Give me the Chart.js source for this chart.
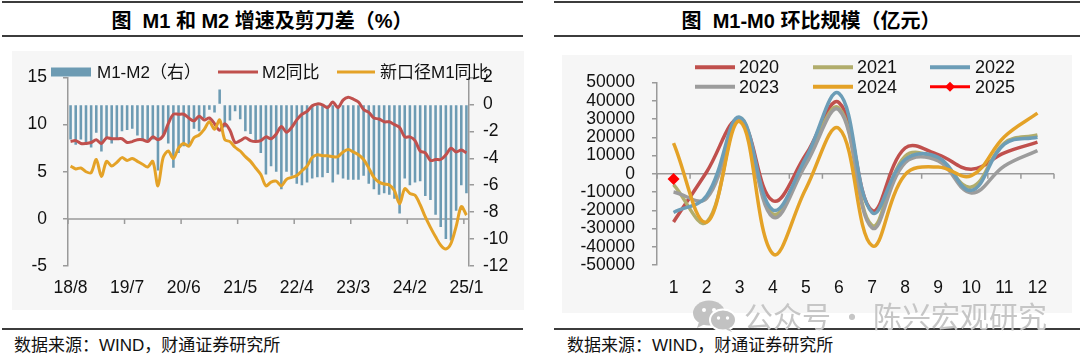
<!DOCTYPE html>
<html><head><meta charset="utf-8">
<script src="https://cdn.jsdelivr.net/npm/chart.js@4.4.1/dist/chart.umd.min.js"></script>
<style>
html,body{margin:0;padding:0;background:#fff;}
body{width:1080px;height:357px;position:relative;overflow:hidden;font-family:"Liberation Sans","Noto Sans CJK SC",sans-serif;}
.rule{position:absolute;height:2px;background:#3c3c3c;}
.title{position:absolute;top:8px;font-weight:bold;font-size:20px;line-height:26px;white-space:pre;color:#000;transform:translateX(-50%);}
.src{position:absolute;top:335px;font-size:17px;line-height:22px;white-space:pre;color:#111;}
.panel{position:absolute;background:#f6f6f6;}
canvas{display:block;}
#wm{position:absolute;left:692px;top:298px;height:34px;white-space:pre;color:#c6c6c6;font-family:"Noto Sans CJK SC",sans-serif;font-size:29px;line-height:34px;}
#wm svg{position:absolute;left:0;top:2px;}
#wm span{position:absolute;left:52px;top:0;}
</style></head>
<body>
<div class="rule" style="left:2px;top:1px;width:521px;"></div>
<div class="title" style="left:262px;">图  M1 和 M2 增速及剪刀差（%）</div>
<div class="rule" style="left:2px;top:35px;width:521px;"></div>
<div class="panel" style="left:12px;top:51px;width:512px;height:259px;"><canvas id="c1" width="512" height="259"></canvas></div>
<div class="rule" style="left:2px;top:328px;width:521px;"></div>
<div class="src" style="left:14px;">数据来源：WIND，财通证券研究所</div>

<div class="rule" style="left:554px;top:1px;width:526px;"></div>
<div class="title" style="left:811px;">图  M1-M0 环比规模（亿元）</div>
<div class="rule" style="left:554px;top:35px;width:526px;"></div>
<div class="panel" style="left:562px;top:55px;width:510px;height:258px;"><canvas id="c2" width="510" height="258"></canvas></div>
<div class="rule" style="left:554px;top:328px;width:526px;"></div>
<div class="src" style="left:567px;">数据来源：WIND，财通证券研究所</div>

<div id="wm"><svg width="46" height="32" viewBox="0 0 46 32">
<ellipse cx="17" cy="13" rx="16" ry="12.5" fill="#c2c2c2"/>
<path d="M7 22 L5 28 L13 24 Z" fill="#c2c2c2"/>
<ellipse cx="31" cy="20" rx="13" ry="10.5" fill="#c2c2c2" stroke="#fff" stroke-width="2"/>
<path d="M37 28 L40 32 L34 29.5 Z" fill="#c2c2c2"/>
<circle cx="12" cy="10" r="2" fill="#fff"/><circle cx="22" cy="10" r="2" fill="#fff"/>
<circle cx="26.5" cy="18" r="1.7" fill="#fff"/><circle cx="35.5" cy="18" r="1.7" fill="#fff"/>
</svg><span>公众号 · 陈兴宏观研究</span></div>

<script>
// ---------- Left chart data ----------
const monthLabels = ['18/8','18/9','18/10','18/11','18/12',
 '19/1','19/2','19/3','19/4','19/5','19/6','19/7','19/8','19/9','19/10','19/11','19/12',
 '20/1','20/2','20/3','20/4','20/5','20/6','20/7','20/8','20/9','20/10','20/11','20/12',
 '21/1','21/2','21/3','21/4','21/5','21/6','21/7','21/8','21/9','21/10','21/11','21/12',
 '22/1','22/2','22/3','22/4','22/5','22/6','22/7','22/8','22/9','22/10','22/11','22/12',
 '23/1','23/2','23/3','23/4','23/5','23/6','23/7','23/8','23/9','23/10','23/11','23/12',
 '24/1','24/2','24/3','24/4','24/5','24/6','24/7','24/8','24/9','24/10','24/11','24/12',
 '25/1'];
const shownMonthTicks = ['18/8','19/7','20/6','21/5','22/4','23/3','24/2','25/1'];
const m2Yoy = [8.2,8.3,8.0,8.0,8.1,
 8.4,8.0,8.6,8.5,8.5,8.5,8.1,8.2,8.4,8.4,8.2,8.7,
 8.4,8.8,10.1,11.1,11.1,11.1,10.7,10.4,10.9,10.5,10.7,10.1,
 9.4,10.1,9.4,8.1,8.3,8.6,8.3,8.2,8.3,8.7,8.5,9.0,
 9.8,9.2,9.7,10.5,11.1,11.4,12.0,12.2,12.1,11.8,12.4,11.8,
 12.6,12.9,12.7,12.4,11.6,11.3,10.7,10.6,10.3,10.3,10.0,9.7,
 8.7,8.7,8.3,7.2,7.0,6.2,6.3,6.3,6.8,7.5,7.1,7.3,
 7.0];
const newM1Yoy = [5.6,5.3,5.4,5.0,4.9,
 6.3,4.5,6.1,5.6,6.0,6.5,6.2,6.4,6.1,5.8,5.5,6.1,
 3.5,6.5,7.2,6.4,7.5,8.0,7.7,8.6,8.9,9.5,10.3,9.5,
 10.5,8.4,8.2,7.6,7.2,6.6,6.1,5.4,4.7,3.5,3.9,4.0,
 3.5,4.2,4.4,4.6,5.1,5.6,6.5,6.8,6.7,6.7,6.6,6.6,
 7.1,7.35,7.1,6.8,6.3,5.4,4.4,3.9,3.7,3.6,3.0,1.6,
 3.2,2.7,2.5,1.5,0.2,-0.9,-1.9,-2.8,-3.2,-2.6,-0.8,1.3,
 0.4];
const gapM1M2 = [-2.6,-3.0,-2.6,-3.0,-3.2,
 -2.1,-3.5,-2.5,-2.9,-2.5,-2.0,-1.9,-1.8,-2.3,-2.6,-2.7,-2.6,
 -4.9,-2.3,-2.9,-4.7,-3.6,-3.1,-3.0,-1.8,-2.0,-1.0,-0.4,-0.6,
 1.1,-1.7,-1.2,-0.5,-1.1,-2.0,-2.2,-2.8,-3.6,-5.2,-4.6,-5.0,
 -6.3,-5.0,-5.3,-5.9,-6.0,-5.8,-5.5,-5.4,-5.4,-5.1,-5.8,-5.2,
 -5.5,-5.6,-5.6,-5.6,-5.3,-5.9,-6.3,-6.7,-6.6,-6.7,-7.0,-8.1,
 -5.5,-6.0,-5.8,-5.7,-6.8,-7.1,-8.2,-9.1,-10.0,-10.1,-7.9,-6.0,
 -6.6];

// ---------- Right chart data (亿元) ----------
const monthNums = ['1','2','3','4','5','6','7','8','9','10','11','12'];
const y2020 = [-26400, 1000, 29500, -14800, 10500, 39000, -20100, 14100, 10500, 2500, 11400, 17300];
const y2021 = [-6000, -26500, 30500, -22000, 7800, 36000, -28300, 9600, 7800, -7300, 16800, 21200];
const y2022 = [-21200, -12000, 31000, -19800, 8700, 44000, -21200, 7800, 9000, -9100, 16200, 20000];
const y2023 = [-10000, -13500, 30000, -23700, 5200, 35000, -29600, 6000, 7000, -10500, 4300, 12700];
const y2024 = [16800, -26500, 28700, -43800, -8200, 24800, -39400, -500, 3700, -1000, 20300, 33200];
const y2025 = [-2900];

// ---------- helpers ----------
const FONT = '"Liberation Sans", "Noto Sans CJK SC", sans-serif';
const AXIS = '#9a9a9a';
const TXT = '#111';
const tickFont = {family: FONT, size: 17.5};

const zeroAxisPlugin = {
  id: 'zeroAxis',
  beforeDatasetsDraw(chart, args, opts) {
    const {ctx, chartArea: a, scales} = chart;
    const xs = scales.x;
    const y0 = scales[opts.yId].getPixelForValue(0);
    const w = xs.getPixelForValue(1) - xs.getPixelForValue(0);
    const start = xs.getPixelForValue(0) - w / 2;
    ctx.save();
    ctx.strokeStyle = AXIS; ctx.lineWidth = 1.5;
    ctx.beginPath();
    ctx.moveTo(a.left, y0); ctx.lineTo(a.right, y0);
    for (let i = 0; i <= opts.n; i += opts.step) {
      const x = start + i * w;
      ctx.moveTo(x, y0); ctx.lineTo(x, y0 + 5);
    }
    ctx.stroke();
    ctx.restore();
  }
};

const legendPlugin = {
  id: 'manualLegend',
  afterDraw(chart, args, opts) {
    const ctx = chart.ctx;
    ctx.save();
    ctx.font = opts.size + 'px ' + FONT;
    ctx.textBaseline = 'middle'; ctx.textAlign = 'left';
    opts.items.forEach(it => {
      const ds = chart.data.datasets[it.ds];
      const x1 = it.x1 - opts.ox, x2 = it.x2 - opts.ox, y = it.y - opts.oy, tx = it.tx - opts.ox;
      if (it.kind === 'box') {
        ctx.fillStyle = ds.backgroundColor;
        ctx.fillRect(x1, y - it.h / 2, x2 - x1, it.h);
      } else {
        ctx.strokeStyle = ds.borderColor; ctx.lineWidth = it.w; ctx.lineCap = 'butt';
        ctx.beginPath(); ctx.moveTo(x1, y); ctx.lineTo(x2, y); ctx.stroke();
        if (it.kind === 'diamond') {
          const cx = (x1 + x2) / 2, r = 5;
          ctx.fillStyle = ds.backgroundColor;
          ctx.beginPath(); ctx.moveTo(cx, y - r); ctx.lineTo(cx + r, y); ctx.lineTo(cx, y + r); ctx.lineTo(cx - r, y); ctx.closePath(); ctx.fill();
        }
      }
      ctx.fillStyle = TXT;
      ctx.fillText(ds.label, tx, y + 1);
    });
    ctx.restore();
  }
};

// ---------- Left chart ----------
new Chart(document.getElementById('c1'), {
  type: 'bar',
  data: {
    labels: monthLabels,
    datasets: [
      {type: 'bar', label: 'M1-M2（右）', data: gapM1M2, yAxisID: 'y2', backgroundColor: '#6d9bb3',
       barPercentage: 0.5, categoryPercentage: 1, order: 3},
      {type: 'line', label: 'M2同比', data: m2Yoy, yAxisID: 'y', borderColor: '#c0504d', backgroundColor: '#c0504d',
       borderWidth: 3, pointRadius: 0, tension: 0.3, order: 2},
      {type: 'line', label: '新口径M1同比', data: newM1Yoy, yAxisID: 'y', borderColor: '#e4a227', backgroundColor: '#e4a227',
       borderWidth: 3, pointRadius: 0, tension: 0.3, order: 1}
    ]
  },
  options: {
    responsive: false, animation: false, devicePixelRatio: 1, events: [],
    layout: {padding: {top: 24.8, left: 0, right: 0, bottom: 0}},
    plugins: {
      legend: {display: false}, tooltip: {enabled: false},
      zeroAxis: {yId: 'y', n: 77, step: 11},
      manualLegend: {size: 17, ox: 12, oy: 51, items: [
        {ds: 0, kind: 'box', x1: 51, x2: 91, y: 72, h: 9, tx: 97},
        {ds: 1, kind: 'line', x1: 218, x2: 258, y: 72, w: 3, tx: 262},
        {ds: 2, kind: 'line', x1: 337, x2: 375, y: 72, w: 3, tx: 380}
      ]}
    },
    scales: {
      x: {type: 'category', offset: true,
          grid: {display: false, drawTicks: false, offset: true}, border: {display: false},
          ticks: {autoSkip: false, maxRotation: 0, minRotation: 0, padding: 12, font: tickFont, color: TXT,
                  callback(v) { const l = this.getLabelForValue(v); return shownMonthTicks.includes(l) ? l : null; }},
          afterFit(s) { s.height = 44; }},
      y: {position: 'left', min: -5, max: 15,
          ticks: {stepSize: 5, autoSkip: false, padding: 16, font: tickFont, color: TXT, callback: v => String(v)},
          grid: {drawOnChartArea: false, drawTicks: true, tickLength: 5, color: AXIS, lineWidth: 1.5},
          border: {display: true, color: AXIS, width: 1.5},
          afterFit(s) { s.width = 56; }},
      y2: {position: 'right', min: -12, max: 2,
          ticks: {stepSize: 2, autoSkip: false, padding: 9, font: tickFont, color: TXT, callback: v => String(v)},
          grid: {drawOnChartArea: false, drawTicks: true, tickLength: 5, color: AXIS, lineWidth: 1.5},
          border: {display: true, color: AXIS, width: 1.5},
          afterFit(s) { s.width = 55; }}
    }
  },
  plugins: [zeroAxisPlugin, legendPlugin]
});

// ---------- Right chart ----------
const lineDs = (label, data, color, order) => ({label, data, borderColor: color, backgroundColor: color,
  borderWidth: 3.5, pointRadius: 0, tension: 0.4, order});
new Chart(document.getElementById('c2'), {
  type: 'line',
  data: {
    labels: monthNums,
    datasets: [
      lineDs('2020', y2020, '#c0504d', 5),
      lineDs('2021', y2021, '#b1ad6c', 4),
      lineDs('2022', y2022, '#6c9db7', 2),
      lineDs('2023', y2023, '#9c9c9c', 3),
      lineDs('2024', y2024, '#e4a227', 1),
      {label: '2025', data: y2025, borderColor: '#ff0000', backgroundColor: '#ff0000', borderWidth: 3.5,
       pointStyle: 'rectRot', pointRadius: 6, pointBorderWidth: 0, order: 0}
    ]
  },
  options: {
    responsive: false, animation: false, devicePixelRatio: 1, events: [],
    layout: {padding: {top: 22.7, left: 0, right: 18, bottom: 0}},
    plugins: {
      legend: {display: false}, tooltip: {enabled: false},
      zeroAxis: {yId: 'y', n: 12, step: 1},
      manualLegend: {size: 18, ox: 562, oy: 55, items: [
        {ds: 0, kind: 'line', x1: 695, x2: 735, y: 67.3, w: 4, tx: 739},
        {ds: 1, kind: 'line', x1: 813, x2: 853, y: 67.3, w: 4, tx: 857},
        {ds: 2, kind: 'line', x1: 930, x2: 970, y: 67.3, w: 4, tx: 975},
        {ds: 3, kind: 'line', x1: 695, x2: 735, y: 86.7, w: 4, tx: 739},
        {ds: 4, kind: 'line', x1: 813, x2: 853, y: 86.7, w: 4, tx: 857},
        {ds: 5, kind: 'diamond', x1: 930, x2: 970, y: 86.7, w: 3, tx: 975}
      ]}
    },
    scales: {
      x: {type: 'category', offset: true,
          grid: {display: false, drawTicks: false}, border: {display: false},
          ticks: {autoSkip: false, maxRotation: 0, minRotation: 0, padding: 13, font: tickFont, color: TXT},
          afterFit(s) { s.height = 48; }},
      y: {position: 'left', min: -50000, max: 50000,
          ticks: {stepSize: 10000, autoSkip: false, padding: 17, font: tickFont, color: TXT, callback: v => String(v)},
          grid: {drawOnChartArea: false, drawTicks: true, tickLength: 5, color: AXIS, lineWidth: 1.5},
          border: {display: true, color: AXIS, width: 1.5},
          afterFit(s) { s.width = 95; }}
    }
  },
  plugins: [zeroAxisPlugin, legendPlugin]
});
</script>
</body></html>
